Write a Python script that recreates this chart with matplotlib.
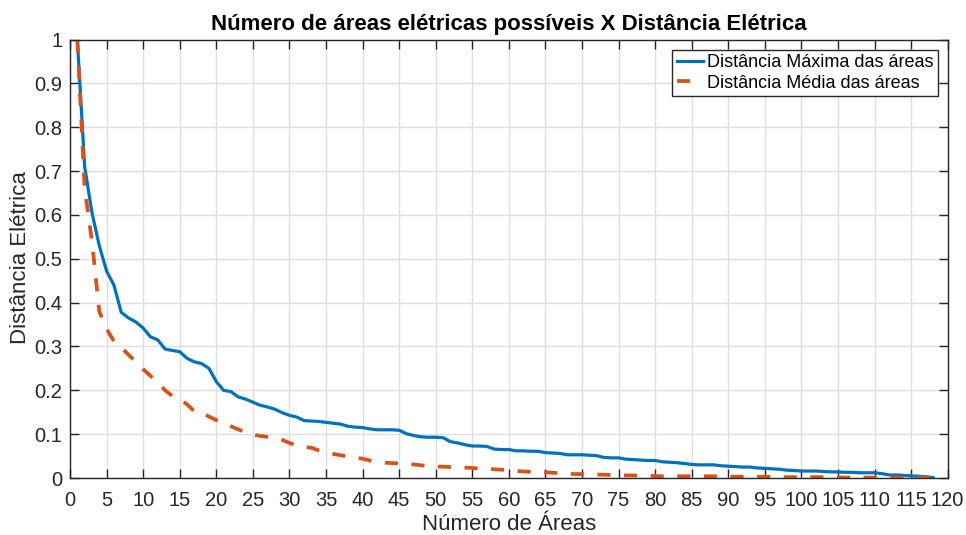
import numpy as np
import matplotlib
matplotlib.use('Agg')
import matplotlib.pyplot as plt

plt.rcParams['font.family'] = ['Liberation Sans', 'DejaVu Sans']

num_areas = list(range(1, 119))

dist_max = [
    1.000, 0.710, 0.605, 0.530, 0.472, 0.440, 0.378, 0.365, 0.356, 0.342,
    0.322, 0.315, 0.294, 0.291, 0.288, 0.273, 0.265, 0.261, 0.250, 0.220,
    0.200, 0.197, 0.185, 0.180, 0.173, 0.166, 0.162, 0.157, 0.149, 0.143,
    0.139, 0.131, 0.130, 0.129, 0.127, 0.125, 0.123, 0.118, 0.116, 0.115,
    0.112, 0.110, 0.110, 0.110, 0.109, 0.101, 0.097, 0.094, 0.093, 0.093,
    0.092, 0.083, 0.080, 0.076, 0.073, 0.073, 0.072, 0.066, 0.065, 0.065,
    0.062, 0.062, 0.061, 0.061, 0.058, 0.057, 0.056, 0.053, 0.053, 0.053,
    0.052, 0.051, 0.047, 0.046, 0.046, 0.043, 0.042, 0.041, 0.040, 0.040,
    0.037, 0.036, 0.035, 0.033, 0.031, 0.030, 0.030, 0.030, 0.028, 0.027,
    0.026, 0.025, 0.025, 0.023, 0.022, 0.021, 0.020, 0.018, 0.017, 0.016,
    0.016, 0.016, 0.015, 0.014, 0.014, 0.013, 0.013, 0.012, 0.012, 0.012,
    0.010, 0.007, 0.007, 0.006, 0.005, 0.004, 0.003, 0.001,
]

dist_media = [
    1.000, 0.660, 0.540, 0.380, 0.340, 0.312, 0.298, 0.281, 0.265, 0.248,
    0.233, 0.218, 0.200, 0.187, 0.180, 0.168, 0.152, 0.150, 0.140, 0.132,
    0.126, 0.118, 0.111, 0.104, 0.099, 0.096, 0.094, 0.092, 0.087, 0.080,
    0.074, 0.071, 0.069, 0.063, 0.058, 0.055, 0.052, 0.049, 0.047, 0.044,
    0.040, 0.037, 0.035, 0.034, 0.033, 0.033, 0.031, 0.029, 0.027, 0.026,
    0.026, 0.025, 0.025, 0.024, 0.023, 0.021, 0.021, 0.020, 0.019, 0.018,
    0.016, 0.015, 0.014, 0.014, 0.013, 0.012, 0.011, 0.010, 0.009, 0.009,
    0.008, 0.008, 0.0075, 0.007, 0.007, 0.006, 0.006, 0.005, 0.005, 0.0045,
    0.004, 0.004, 0.004, 0.004, 0.004, 0.004, 0.004, 0.004, 0.003, 0.003,
    0.003, 0.003, 0.003, 0.003, 0.003, 0.003, 0.002, 0.002, 0.002, 0.002,
    0.002, 0.002, 0.002, 0.002, 0.001, 0.001, 0.001, 0.001, 0.001, 0.001,
    0.001, 0.001, 0.0005, 0.0005, 0.0005, 0.0005, 0.0005, 0.000,
]

x_ticks = list(range(0, 121, 5))
y_ticks = [0, 0.1, 0.2, 0.3, 0.4, 0.5, 0.6, 0.7, 0.8, 0.9, 1]
y_labels = ['0', '0.1', '0.2', '0.3', '0.4', '0.5', '0.6', '0.7', '0.8', '0.9', '1']

fig = plt.figure(figsize=(9.66, 5.35), dpi=100)
ax = fig.add_axes([0.0725, 0.1065, 0.9085, 0.8195])

ax.plot(num_areas, dist_max, color='#0072BD', linewidth=2.3,
        label='Distância Máxima das áreas')
ax.plot(num_areas, dist_media, color='#D95319', linewidth=2.7,
        linestyle=(0, (3.5, 3.6)), label='Distância Média das áreas')

ax.set_xlim(0, 120)
ax.set_ylim(0, 1)
ax.set_xticks(x_ticks)
ax.set_yticks(y_ticks)
ax.set_yticklabels(y_labels)
ax.grid(True, color='#DFDFDF', linewidth=1.0)
ax.set_axisbelow(True)
ax.tick_params(direction='in', length=6.5, width=1, labelsize=14.5, colors='#262626',
               top=True, right=True)
ax.tick_params(axis='x', pad=9)
ax.tick_params(axis='y', pad=5.5)
for s in ax.spines.values():
    s.set_color('#262626')
    s.set_linewidth(1.0)

ax.set_title('Número de áreas elétricas possíveis X Distância Elétrica',
             fontsize=16, fontweight='bold', pad=7)
ax.set_xlabel('Número de Áreas', fontsize=16, color='#262626', labelpad=3)
ax.set_ylabel('Distância Elétrica', fontsize=16, color='#262626')
ax.yaxis.set_label_coords(-0.044, 0.503)

leg = ax.legend(loc='upper right', fontsize=13, fancybox=False, framealpha=1,
                edgecolor='#262626', handlelength=1.45, borderaxespad=0.55,
                borderpad=0.25, labelspacing=0.2, handletextpad=0.2)
leg.get_frame().set_linewidth(1.0)

fig.savefig('out.png', dpi=100)
